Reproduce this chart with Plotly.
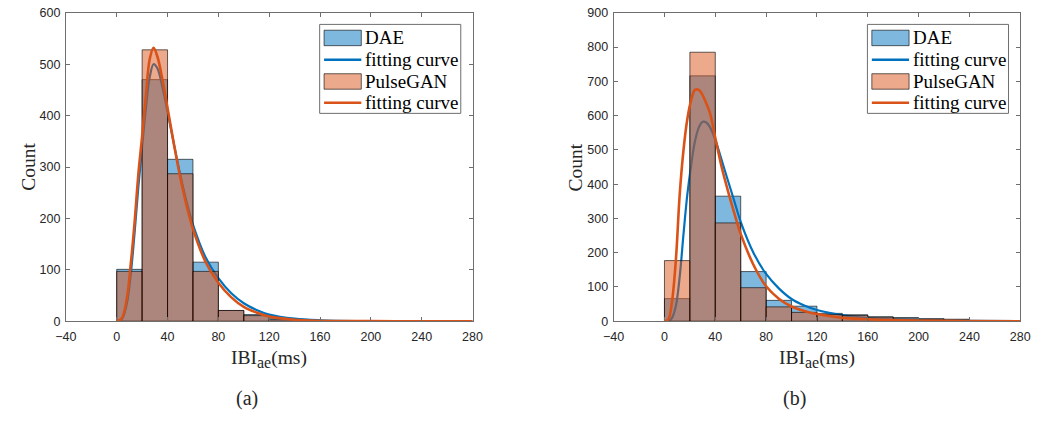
import plotly.graph_objects as go

# ---------------- data ----------------
bin_edges = [0, 20, 40, 60, 80, 100, 120, 140, 160, 180, 200, 220, 240, 260]
bin_width = 20

# panel (a)
a_dae_counts = [101, 470, 315, 115, 21, 13, 5, 2, 1, 0, 0, 0, 0, 0]
a_gan_counts = [97, 528, 287, 97, 21, 11, 3, 1, 0, 0, 0, 0, 0, 0]
a_fit_x = [0, 4, 8, 11, 14, 17, 20, 23, 26, 29, 32, 36, 40, 45, 50, 55, 60,
           70, 80, 90, 100, 110, 120, 140, 160, 200, 240, 280]
a_dae_fit = [0, 4, 35, 90, 170, 260, 340, 415, 475, 500, 492, 455, 408, 345,
             285, 232, 188, 124, 84, 55, 35, 22, 13, 5, 2, 0.4, 0.1, 0]
a_gan_fit = [0, 6, 45, 110, 190, 285, 360, 440, 510, 532, 515, 470, 415, 345,
             280, 225, 180, 115, 75, 47, 28, 17, 9, 3, 1, 0.2, 0, 0]

# panel (b)
b_dae_counts = [66, 716, 365, 145, 61, 44, 23, 19, 13, 11, 8, 6, 2, 1]
b_gan_counts = [177, 785, 287, 98, 42, 26, 20, 17, 12, 7, 5, 4, 1, 1]
b_fit_x = [0, 3, 6, 9, 12, 15, 18, 21, 24, 27, 30, 33, 36, 40, 45, 50, 55, 60,
           70, 80, 90, 100, 110, 120, 140, 160, 180, 200, 240, 280]
b_dae_fit = [0, 0, 10, 45, 130, 255, 370, 455, 525, 565, 582, 580, 565, 530,
             470, 410, 350, 290, 200, 138, 96, 65, 46, 33, 18, 9, 5, 3, 1, 0.3]
b_gan_fit = [0, 5, 60, 180, 370, 500, 590, 645, 675, 675, 660, 635, 605, 535,
             450, 380, 315, 255, 165, 102, 66, 43, 30, 21, 10, 6, 3.5, 2, 0.7, 0.2]

x_ticks = [-40, 0, 40, 80, 120, 160, 200, 240, 280]
legend_labels = ["DAE", "fitting curve", "PulseGAN", "fitting curve"]
panel_labels = ["(a)", "(b)"]

# ---------------- style ----------------
W, H = 1044, 424
BLUE = "rgb(0,114,189)"
ORANGE = "rgb(217,83,25)"
BLUE_FILL = "rgba(0,114,189,0.5)"
ORANGE_FILL = "rgba(217,83,25,0.5)"
EDGE = "rgba(0,0,0,0.6)"
AXIS = "rgb(110,110,110)"
TICKFONT = dict(family="Liberation Sans, Arial", size=12.5, color="rgb(38,38,38)")
SERIF = "Liberation Serif, Times New Roman"

# plot boxes in pixels: (left, right, top, bottom)
boxes = [(56, 471, 6, 325), (615, 1030, 6, 325)]


def px_x(p):
    return p / W


def px_y(p):
    return 1 - p / H


fig = go.Figure()

panels = [
    (a_dae_counts, a_gan_counts, a_fit_x, a_dae_fit, a_gan_fit, 600),
    (b_dae_counts, b_gan_counts, b_fit_x, b_dae_fit, b_gan_fit, 900),
]

for i, (dae_c, gan_c, fx, dae_f, gan_f, ymax) in enumerate(panels):
    base = i + 1          # x / x2 : DAE layer with visible axes
    over = i + 3          # x3 / x4 : PulseGAN layer drawn on top
    bx = "x" if base == 1 else f"x{base}"
    by = "y" if base == 1 else f"y{base}"
    ox, oy = f"x{over}", f"y{over}"

    fig.add_trace(go.Bar(x=bin_edges, y=dae_c, width=bin_width, offset=0,
                         marker=dict(color=BLUE_FILL, line=dict(color=EDGE, width=1)),
                         xaxis=bx, yaxis=by, showlegend=False))
    fig.add_trace(go.Scatter(x=fx, y=dae_f, mode="lines", line=dict(color=BLUE, width=2.2, shape="spline"),
                             xaxis=bx, yaxis=by, showlegend=False))
    fig.add_trace(go.Bar(x=bin_edges, y=gan_c, width=bin_width, offset=0,
                         marker=dict(color=ORANGE_FILL, line=dict(color=EDGE, width=1)),
                         xaxis=ox, yaxis=oy, showlegend=False))
    fig.add_trace(go.Scatter(x=fx, y=gan_f, mode="lines", line=dict(color=ORANGE, width=2.6, shape="spline"),
                             xaxis=ox, yaxis=oy, showlegend=False))

    l, r, t, b = boxes[i]
    xdom = [px_x(l), px_x(r)]
    ydom = [px_y(b), px_y(t)]
    common = dict(showline=True, linecolor=AXIS, linewidth=1, mirror="ticks",
                  ticks="inside", ticklen=4, tickcolor=AXIS, tickwidth=1,
                  showgrid=False, zeroline=False, tickfont=TICKFONT, fixedrange=True,
                  ticklabeloverflow="allow")
    xname = "xaxis" if base == 1 else f"xaxis{base}"
    yname = "yaxis" if base == 1 else f"yaxis{base}"
    fig.layout[xname] = dict(domain=xdom, range=[-40, 280], tickvals=x_ticks,
                             anchor=by, ticklabelstandoff=4, **common)
    fig.layout[yname] = dict(domain=ydom, range=[0, ymax], dtick=100,
                             anchor=bx, ticklabelstandoff=2, **common)
    fig.layout[f"xaxis{over}"] = dict(overlaying=bx, range=[-40, 280], visible=False,
                                      anchor=oy, fixedrange=True)
    fig.layout[f"yaxis{over}"] = dict(overlaying=by, range=[0, ymax], visible=False,
                                      anchor=ox, fixedrange=True)

    # axis titles and panel label
    cx = (l + r) / 2
    fig.add_annotation(x=px_x(cx), y=px_y(364), xref="paper", yref="paper",
                       text="IBI<sub><span style='font-size:16px'>ae</span></sub>(ms)",
                       showarrow=False, font=dict(family=SERIF, size=19.5, color="rgb(38,38,38)"),
                       xanchor="center", yanchor="middle")
    fig.add_annotation(x=px_x(l - 39), y=px_y((t + b) / 2), xref="paper", yref="paper",
                       text="Count", textangle=-90, showarrow=False,
                       font=dict(family=SERIF, size=19.5, color="rgb(38,38,38)"),
                       xanchor="center", yanchor="middle")
    fig.add_annotation(x=px_x(cx - 23), y=px_y(405), xref="paper", yref="paper",
                       text=panel_labels[i], showarrow=False,
                       font=dict(family=SERIF, size=20, color="rgb(38,38,38)"),
                       xanchor="center", yanchor="middle")

    # legend box
    lg_l, lg_r, lg_t, lg_b = r - 156, r - 12, 18, 110
    fig.add_shape(type="rect", xref="paper", yref="paper",
                  x0=px_x(lg_l), x1=px_x(lg_r), y0=px_y(lg_b), y1=px_y(lg_t),
                  line=dict(color=AXIS, width=1), fillcolor="white", layer="above")
    rows = [32, 54.5, 77, 99]
    sw_l, sw_r = lg_l + 4.5, lg_l + 42.5
    swatches = [("rect", BLUE_FILL), ("line", BLUE), ("rect", ORANGE_FILL), ("line", ORANGE)]
    for (kind, col), yc, label in zip(swatches, rows, legend_labels):
        if kind == "rect":
            fig.add_shape(type="rect", xref="paper", yref="paper",
                          x0=px_x(sw_l), x1=px_x(sw_r), y0=px_y(yc + 8), y1=px_y(yc - 8),
                          line=dict(color=EDGE, width=1), fillcolor=col, layer="above")
        else:
            fig.add_shape(type="line", xref="paper", yref="paper",
                          x0=px_x(sw_l), x1=px_x(sw_r), y0=px_y(yc), y1=px_y(yc),
                          line=dict(color=col, width=2.4), layer="above")
        fig.add_annotation(x=px_x(sw_r + 1.5), y=px_y(yc), xref="paper", yref="paper",
                           text=label, showarrow=False, xanchor="left", yanchor="middle",
                           font=dict(family=SERIF, size=19, color="black"))

fig.update_layout(width=W, height=H, margin=dict(l=0, r=0, t=0, b=0),
                  paper_bgcolor="white", plot_bgcolor="white",
                  barmode="overlay", showlegend=False)

fig.write_html("out.html")
